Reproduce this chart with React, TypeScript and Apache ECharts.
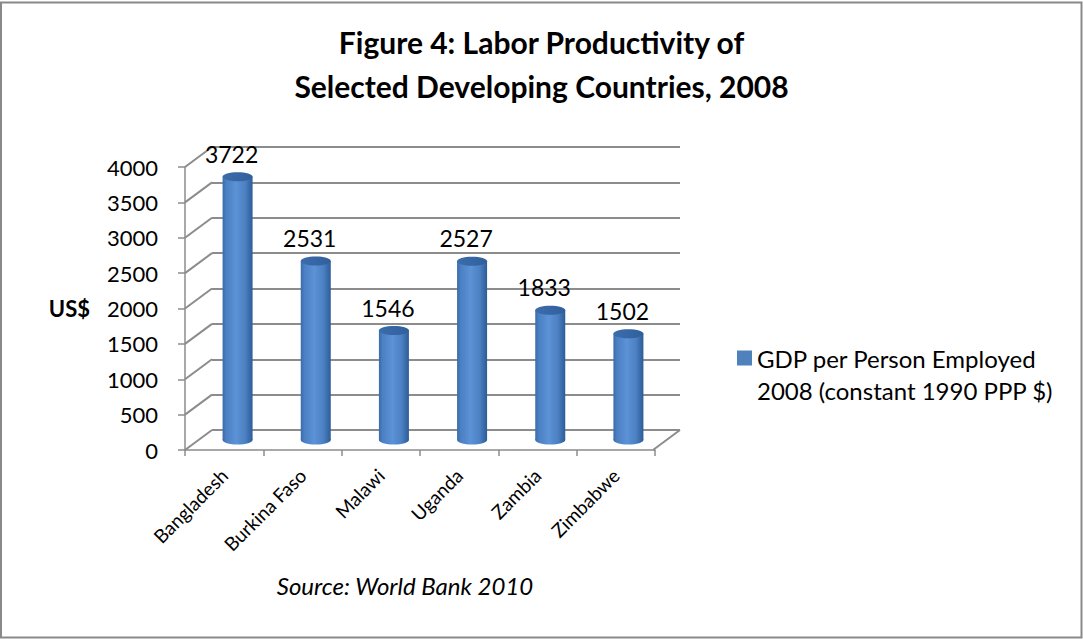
import React, { useEffect, useRef } from "react";
import * as echarts from "echarts";

const categories = ["Bangladesh", "Burkina Faso", "Malawi", "Uganda", "Zambia", "Zimbabwe"];
const values = [3722, 2531, 1546, 2527, 1833, 1502];
const yTicks = [0, 500, 1000, 1500, 2000, 2500, 3000, 3500, 4000];
const seriesName = "GDP per Person Employed\n2008 (constant 1990 PPP $)";
const titleText = "Figure 4: Labor Productivity of\nSelected Developing Countries, 2008";
const sourceText = "Source: World Bank 2010";
const yName = "US$";

const FONT = "Lato";
const GRID_LINE = "#8c8c8c";
const DX = 27; // depth offset (px)
const DY = 20;
const LEGEND_LINE = 32;

export default function App() {
  const ref = useRef<HTMLDivElement>(null);
  useEffect(() => {
    if (!ref.current) return;
    const chart = echarts.init(ref.current, null, { renderer: "svg" });
    const yMin = yTicks[0];
    const yMax = yTicks[yTicks.length - 1];
    const yInt = yTicks[1] - yTicks[0];
    const iconH = LEGEND_LINE * 2;
    const sqTop = LEGEND_LINE / 2 - 7.5;
    const legendIcon = `path://M0,${sqTop}L15,${sqTop}L15,${sqTop + 15}L0,${sqTop + 15}Z M0,0L0.01,0L0,0.01Z M0,${iconH}L0.01,${iconH}L0,${iconH - 0.01}Z`;
    const option: any = {
      animation: false,
      backgroundColor: "#ffffff",
      textStyle: { fontFamily: FONT },
      title: {
        text: titleText,
        left: "center",
        top: 15,
        textStyle: { fontFamily: FONT, fontSize: 30, fontWeight: "bold", color: "#000", lineHeight: 44 },
      },
      legend: {
        data: [seriesName],
        left: 737,
        top: 342,
        padding: 0,
        icon: legendIcon,
        itemWidth: 15,
        itemHeight: iconH,
        textStyle: { fontFamily: FONT, fontSize: 24, color: "#000", lineHeight: LEGEND_LINE },
      },
      grid: [
        { left: 185, top: 167, width: 470, height: 283, containLabel: false },
        { left: 212, top: 147, width: 468, height: 283, containLabel: false },
        { left: 198.5, top: 157, width: 469, height: 283, containLabel: false },
      ],
      xAxis: [
        {
          gridIndex: 0,
          type: "category",
          data: categories,
          boundaryGap: true,
          axisLine: { show: true, lineStyle: { color: GRID_LINE, width: 1.5 } },
          axisTick: { show: true, length: 6, interval: 0, lineStyle: { color: GRID_LINE, width: 1.5 } },
          axisLabel: { rotate: 45, interval: 0, margin: 22, fontFamily: FONT, fontSize: 19, color: "#000" },
          splitLine: { show: false },
        },
        { gridIndex: 1, type: "value", min: 0, max: 1, show: false },
        { gridIndex: 2, type: "category", data: categories, boundaryGap: true, show: false },
      ],
      yAxis: [
        {
          gridIndex: 0,
          type: "value",
          min: yMin,
          max: yMax,
          interval: yInt,
          name: yName,
          nameLocation: "middle",
          nameRotate: 0,
          nameGap: 95,
          nameTextStyle: { fontFamily: FONT, fontSize: 22, fontWeight: "bold", color: "#000" },
          axisLine: { show: true, lineStyle: { color: GRID_LINE, width: 1.5 } },
          axisTick: { show: true, length: 7, lineStyle: { color: GRID_LINE, width: 1.5 } },
          axisLabel: {
            margin: 27,
            fontFamily: FONT,
            fontSize: 22,
            color: "#000",
            formatter: (v: number) => String(v),
          },
          splitLine: { show: false },
        },
        {
          gridIndex: 1,
          type: "value",
          min: yMin,
          max: yMax,
          interval: yInt,
          axisLine: { show: false },
          axisTick: { show: false },
          axisLabel: { show: false },
          splitLine: { show: true, lineStyle: { color: GRID_LINE, width: 2 } },
        },
        { gridIndex: 2, type: "value", min: yMin, max: yMax, interval: yInt, show: false },
      ],
      series: [
        {
          type: "custom",
          name: "walls",
          xAxisIndex: 1,
          yAxisIndex: 1,
          silent: true,
          data: [...yTicks.map((t) => [0, t]), [1, yMin]],
          renderItem: (params: any, api: any) => {
            const p = api.coord([api.value(0), api.value(1)]);
            return {
              type: "line",
              shape: { x1: p[0], y1: p[1], x2: p[0] - DX, y2: p[1] + DY },
              style: { stroke: GRID_LINE, lineWidth: 2 },
            };
          },
        },
        {
          type: "custom",
          name: seriesName,
          xAxisIndex: 2,
          yAxisIndex: 2,
          itemStyle: { color: "#4f81bd" },
          data: values.map((v, i) => [i, v]),
          encode: { x: 0, y: 1 },
          renderItem: (params: any, api: any) => {
            const top = api.coord([api.value(0), api.value(1)]);
            const base = api.coord([api.value(0), 0]);
            const w = 30;
            const rx = w / 2;
            const ry = 4.5;
            const cx = top[0];
            const bodyFill = new echarts.graphic.LinearGradient(0, 0, 1, 0, [
              { offset: 0, color: "#3a6aa9" },
              { offset: 0.12, color: "#4b80c3" },
              { offset: 0.45, color: "#5c92d6" },
              { offset: 0.75, color: "#4c81c3" },
              { offset: 1, color: "#2d5c98" },
            ]);
            const capFill = new echarts.graphic.LinearGradient(0, 0, 1, 0, [
              { offset: 0, color: "#3c6dab" },
              { offset: 1, color: "#305f9c" },
            ]);
            return {
              type: "group",
              children: [
                {
                  type: "ellipse",
                  shape: { cx, cy: base[1], rx, ry },
                  style: { fill: bodyFill },
                },
                {
                  type: "rect",
                  shape: { x: cx - rx, y: top[1], width: w, height: base[1] - top[1] },
                  style: { fill: bodyFill },
                },
                {
                  type: "ellipse",
                  shape: { cx, cy: top[1], rx, ry },
                  style: { fill: capFill },
                },
                {
                  type: "text",
                  x: cx - 6,
                  y: top[1] - 23,
                  style: {
                    text: String(api.value(1)),
                    fill: "#000",
                    font: `23px ${FONT}`,
                    align: "center",
                    verticalAlign: "middle",
                  },
                },
              ],
            };
          },
        },
      ],
      graphic: [
        {
          type: "rect",
          shape: { x: 1, y: 2.5, width: 1080.5, height: 635 },
          style: { fill: "none", stroke: "#898989", lineWidth: 2 },
          silent: true,
        },
        {
          type: "text",
          x: 405,
          y: 585,
          style: {
            text: sourceText,
            fill: "#000",
            font: `italic 24px ${FONT}`,
            align: "center",
            verticalAlign: "middle",
          },
        },
      ],
    };
    chart.setOption(option);
    return () => chart.dispose();
  }, []);
  return (
    <div
      ref={ref}
      style={{ position: "absolute", left: 0, top: 0, width: 1083, height: 639 }}
    />
  );
}
